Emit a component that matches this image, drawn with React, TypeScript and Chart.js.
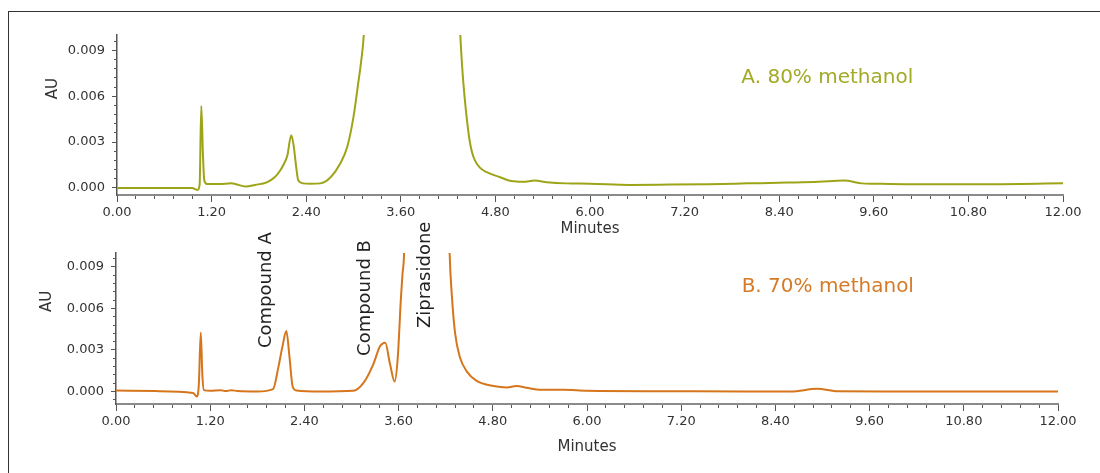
import React, { useEffect, useRef } from "react";
import { Chart, registerables } from "chart.js";

Chart.register(...registerables);

// ---------- Data ----------
const xTickLabels = ["0.00", "1.20", "2.40", "3.60", "4.80", "6.00", "7.20", "8.40", "9.60", "10.80", "12.00"];
const xMajorTicks = [0, 1.2, 2.4, 3.6, 4.8, 6.0, 7.2, 8.4, 9.6, 10.8, 12.0];
const xMinorStep = 0.24;
const yMajorTicks = [0, 0.003, 0.006, 0.009];
const yMinorStep = 0.0006;

// A. 80% methanol
const timeA = [0, 0.5, 0.95, 1.02, 1.048, 1.069, 1.09, 1.107, 1.14, 1.3, 1.45, 1.5, 1.63, 1.75, 1.9, 2.0, 2.07, 2.12, 2.16, 2.21, 2.24, 2.27, 2.3, 2.36, 2.45, 2.58, 2.71, 2.83, 2.92, 3.0, 3.06, 3.1, 3.13, 3.75, 4.355, 4.38, 4.41, 4.44, 4.47, 4.5, 4.54, 4.6, 4.69, 4.86, 5.0, 5.15, 5.3, 5.45, 5.7, 6.0, 6.5, 7.0, 7.5, 8.0, 8.5, 8.9, 9.22, 9.45, 9.6, 10.0, 11.0, 12.0];
const auA = [0, 0, 0, -0.00013, 0.0002, 0.00536, 0.0022, 0.0005, 0.00026, 0.00026, 0.0003, 0.00026, 0.0001, 0.0002, 0.00037, 0.0007, 0.00114, 0.0016, 0.0021, 0.00345, 0.0028, 0.0015, 0.00048, 0.0003, 0.00028, 0.0003, 0.0007, 0.00158, 0.00268, 0.00465, 0.00685, 0.0084, 0.01, 0.09, 0.01, 0.0078, 0.0059, 0.0044, 0.0032, 0.0024, 0.0018, 0.00135, 0.00103, 0.0007, 0.00045, 0.0004, 0.00048, 0.00038, 0.0003, 0.00028, 0.0002, 0.00022, 0.00025, 0.0003, 0.00035, 0.0004, 0.00048, 0.0003, 0.00028, 0.00025, 0.00025, 0.0003];

// B. 70% methanol
const timeB = [0, 0.5, 0.98, 1.03, 1.055, 1.08, 1.1, 1.12, 1.2, 1.33, 1.4, 1.47, 1.55, 1.8, 2.0, 2.07, 2.12, 2.17, 2.21, 2.25, 2.3, 2.6, 3.02, 3.15, 3.28, 3.36, 3.43, 3.49, 3.55, 3.59, 3.63, 3.65, 3.67, 3.95, 4.25, 4.28, 4.32, 4.38, 4.47, 4.59, 4.81, 4.98, 5.1, 5.25, 5.4, 5.7, 6.0, 7.0, 8.0, 8.6, 8.93, 9.2, 10.0, 11.0, 12.0];
const auB = [0.00007, 0.00003, -0.0001, -0.00036, 0.0005, 0.00427, 0.0012, 0.0001, 0.00005, 0.0001, 0.00003, 0.0001, 0.00003, 0, 0.00017, 0.0018, 0.00324, 0.00437, 0.0025, 0.00036, 0.00007, 0, 0.00005, 0.0006, 0.002, 0.00324, 0.00353, 0.002, 0.00072, 0.0025, 0.0068, 0.0085, 0.01, 0.09, 0.01, 0.0068, 0.0042, 0.0025, 0.00144, 0.00079, 0.0004, 0.0003, 0.0004, 0.00025, 0.00012, 0.00012, 0.00005, 0.00002, 0, 0, 0.0002, 0.00002, 0.00001, 0, 0];

// Peak labels (chart B): text, anchor time, anchor AU
const peakNames = ["Compound A", "Compound B", "Ziprasidone"];
const peakTimes = [1.92, 3.17, 3.94];
const peakAU = [0.00314, 0.00257, 0.00458];

const seriesNames = ["A. 80% methanol", "B. 70% methanol"];

// ---------- Styles ----------
const FONT = "'DejaVu Sans', Verdana, sans-serif";
const COLOR_A = "#9ea418";
const COLOR_A_TEXT = "#a2aa26";
const COLOR_B = "#d6761c";
const COLOR_B_TEXT = "#d67a26";
const TEXT = "#333333";

type TextItem = {
  text: string;
  x: number;
  y: number;
  color: string;
  size: number;
  rotate?: boolean;
  align?: CanvasTextAlign;
  offsetLeft?: number;
};

function textPlugin(items: TextItem[]) {
  return {
    id: "chromText",
    afterDatasetsDraw(chart: any) {
      const { ctx, chartArea, scales } = chart;
      for (const it of items) {
        const px = it.offsetLeft !== undefined ? chartArea.left - it.offsetLeft : scales.x.getPixelForValue(it.x);
        const py = scales.y.getPixelForValue(it.y);
        ctx.save();
        ctx.translate(px, py);
        if (it.rotate) ctx.rotate(-Math.PI / 2);
        ctx.font = `${it.size}px ${FONT}`;
        ctx.fillStyle = it.color;
        ctx.textAlign = it.align || "left";
        ctx.textBaseline = "middle";
        ctx.fillText(it.text, 0, 0);
        ctx.restore();
      }
    },
  };
}

function stepTicks(min: number, max: number, step: number) {
  const out: { value: number }[] = [];
  const n = Math.round((max - min) / step);
  for (let i = 0; i <= n; i++) out.push({ value: +(min + i * step).toFixed(6) });
  return out;
}

function makeConfig(opts: {
  times: number[];
  values: number[];
  color: string;
  yMin: number;
  yMax: number;
  padding: { left: number; right: number; top: number; bottom: number };
  yWidth: number;
  xHeight: number;
  items: TextItem[];
}) {
  const { times, values, color, yMin, yMax, padding, yWidth, xHeight, items } = opts;
  return {
    type: "line" as const,
    data: {
      datasets: [
        {
          data: times.map((t, i) => ({ x: t, y: values[i] })),
          borderColor: color,
          borderWidth: 2,
          pointRadius: 0,
          fill: false,
          cubicInterpolationMode: "monotone" as const,
          xAxisID: "x",
          yAxisID: "y",
        },
      ],
    },
    options: {
      responsive: false,
      animation: false as const,
      events: [],
      layout: { padding },
      plugins: { legend: { display: false }, tooltip: { enabled: false } },
      scales: {
        x: {
          type: "linear" as const,
          axis: "x",
          position: "bottom" as const,
          weight: 1,
          min: 0,
          max: 12,
          afterBuildTicks: (s: any) => {
            s.ticks = xMajorTicks.map((v) => ({ value: v }));
          },
          afterFit: (s: any) => {
            s.height = xHeight;
          },
          ticks: {
            autoSkip: false,
            maxRotation: 0,
            padding: 3,
            color: TEXT,
            font: { family: FONT, size: 13 },
            callback: (v: any) => {
              const i = xMajorTicks.findIndex((m) => Math.abs(m - v) < 1e-6);
              return i >= 0 ? xTickLabels[i] : "";
            },
          },
          grid: { display: true, drawOnChartArea: false, drawTicks: true, tickLength: 7, tickColor: "#555", tickWidth: 1 },
          border: { display: true, color: "#8a8a8a", width: 2 },
          title: { display: true, text: "Minutes", color: TEXT, font: { family: FONT, size: 15 }, padding: 0 },
        },
        xMinor: {
          type: "linear" as const,
          axis: "x",
          position: "bottom" as const,
          weight: 0,
          min: 0,
          max: 12,
          afterBuildTicks: (s: any) => {
            s.ticks = stepTicks(0, 12, xMinorStep);
          },
          afterFit: (s: any) => {
            s.height = 0;
          },
          ticks: { display: false, autoSkip: false },
          grid: { display: true, drawOnChartArea: false, drawTicks: true, tickLength: 4, tickColor: "#555", tickWidth: 1 },
          border: { display: false },
        },
        y: {
          type: "linear" as const,
          axis: "y",
          position: "left" as const,
          weight: 1,
          min: yMin,
          max: yMax,
          afterBuildTicks: (s: any) => {
            s.ticks = yMajorTicks.map((v) => ({ value: v }));
          },
          afterFit: (s: any) => {
            s.width = yWidth;
          },
          ticks: {
            autoSkip: false,
            padding: 7,
            color: TEXT,
            font: { family: FONT, size: 13 },
            callback: (v: any) => Number(v).toFixed(3),
          },
          grid: { display: true, drawOnChartArea: false, drawTicks: true, tickLength: 5, tickColor: "#555", tickWidth: 1 },
          border: { display: true, color: "#555", width: 1.5 },
        },
        yMinor: {
          type: "linear" as const,
          axis: "y",
          position: "left" as const,
          weight: 0,
          min: yMin,
          max: yMax,
          afterBuildTicks: (s: any) => {
            s.ticks = stepTicks(-yMinorStep, 0.0096, yMinorStep).filter((t) => t.value >= yMin && t.value <= yMax);
          },
          afterFit: (s: any) => {
            s.width = 0;
          },
          ticks: { display: false, autoSkip: false },
          grid: { display: true, drawOnChartArea: false, drawTicks: true, tickLength: 3, tickColor: "#555", tickWidth: 1 },
          border: { display: false },
        },
      },
    },
    plugins: [textPlugin(items)],
  };
}

export default function App() {
  const refA = useRef<HTMLCanvasElement>(null);
  const refB = useRef<HTMLCanvasElement>(null);

  useEffect(() => {
    Chart.defaults.font.family = FONT;
    const itemsA: TextItem[] = [
      { text: "AU", x: 0, y: 0.0065, color: TEXT, size: 15, rotate: true, align: "center", offsetLeft: 64 },
      { text: seriesNames[0], x: 7.92, y: 0.0072, color: COLOR_A_TEXT, size: 20 },
    ];
    const itemsB: TextItem[] = [
      { text: "AU", x: 0, y: 0.0065, color: TEXT, size: 15, rotate: true, align: "center", offsetLeft: 69 },
      { text: seriesNames[1], x: 7.97, y: 0.00755, color: COLOR_B_TEXT, size: 20 },
      ...peakNames.map((n, i) => ({ text: n, x: peakTimes[i], y: peakAU[i], color: "#222", size: 18, rotate: true, align: "left" as CanvasTextAlign })),
    ];
    const a = new Chart(
      refA.current!,
      makeConfig({
        times: timeA,
        values: auA,
        color: COLOR_A,
        yMin: -0.00046,
        yMax: 0.01,
        padding: { left: 0, right: 37, top: 35, bottom: 2 },
        yWidth: 117,
        xHeight: 43,
        items: itemsA,
      }) as any
    );
    const b = new Chart(
      refB.current!,
      makeConfig({
        times: timeB,
        values: auB,
        color: COLOR_B,
        yMin: -0.0009,
        yMax: 0.01,
        padding: { left: 0, right: 42, top: 53, bottom: 17 },
        yWidth: 116,
        xHeight: 52,
        items: itemsB,
      }) as any
    );
    return () => {
      a.destroy();
      b.destroy();
    };
  }, []);

  return (
    <div style={{ position: "fixed", left: 0, top: 0, width: 1100, height: 473, overflow: "hidden", background: "#fff" }}>
      <div
        style={{
          position: "absolute",
          left: 8,
          top: 11,
          width: 1200,
          height: 600,
          borderLeft: "1.5px solid #333",
          borderTop: "1.5px solid #333",
        }}
      />
      <canvas ref={refA} width={1100} height={240} style={{ position: "absolute", left: 0, top: 0, width: 1100, height: 240 }} />
      <canvas ref={refB} width={1100} height={273} style={{ position: "absolute", left: 0, top: 200, width: 1100, height: 273 }} />
    </div>
  );
}
